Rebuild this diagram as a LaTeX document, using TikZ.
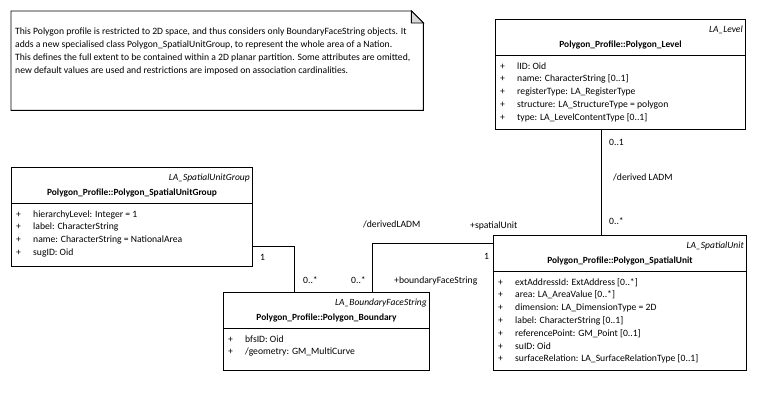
\documentclass[tikz,border=0pt]{standalone}
\usepackage{fontspec}
\setmainfont{Carlito}
\begin{document}
\begin{tikzpicture}
[x=1pt,y=-1pt,%
  boxLine/.style={draw,line width=0.9pt},%
  classBox/.style={boxLine,fill=white,anchor=north west,inner sep=0pt},%
  noteBox/.style={anchor=north west,inner sep=0pt},%
  umlText/.style={inner sep=0pt,font=\fontsize{9.65pt}{12.8pt}\selectfont},%
  stereoText/.style={umlText,anchor=base east,font=\fontsize{9.5pt}{12.8pt}\selectfont\itshape},%
  titleText/.style={umlText,anchor=base,font=\fontsize{9.4pt}{12.8pt}\selectfont\bfseries},%
  attrText/.style={umlText,anchor=base west},%
  assocLine/.style={-,line width=0.9pt}]
\useasboundingbox (0,0) rectangle (757,400);
%% note
\node (note) at (11,11) [noteBox,minimum width=412pt,minimum height=99pt] {};
\draw[boxLine,fill=white] (note.north west) -- ([xshift=-12pt]note.north east)
  -- ([yshift=-12pt]note.north east) -- (note.south east) -- (note.south west) -- cycle;
\draw[boxLine,fill=gray!30] ([xshift=-12pt]note.north east)
  -- ([xshift=-12pt,yshift=-12pt]note.north east) -- ([yshift=-12pt]note.north east) -- cycle;
\node (noteText) at (15,28) [umlText,anchor=north west,align=left]
  {This Polygon profile is restricted to 2D space, and thus considers only BoundaryFaceString objects. It\\
   adds a new specialised class Polygon\_SpatialUnitGroup, to represent the whole area of a Nation.\\
   This defines the full extent to be contained within a 2D planar partition. Some attributes are omitted,\\
   new default values are used and restrictions are imposed on association cardinalities.};
%% class boxes
\foreach \name/\x/\y/\w/\h/\stereo/\title in {level/495/19/250/110/LA\_Level/Polygon\_Level,
  sug/11/167/241/99/LA\_SpatialUnitGroup/Polygon\_SpatialUnitGroup,
  bnd/223/292/206/78/LA\_BoundaryFaceString/Polygon\_Boundary,
  su/493/235/253/135/LA\_SpatialUnit/Polygon\_SpatialUnit}
{
  \node (\name) at (\x,\y) [classBox,minimum width=\w pt,minimum height=\h pt] {};
  \node (\name-st) at ([xshift=-3pt,yshift=-13pt]\name.north east) [stereoText] {\stereo};
  \node (\name-ti) at ([yshift=-28.5pt]\name.north) [titleText] {Polygon\_Profile::\title};
  \draw[boxLine] ([yshift=-36.5pt]\name.north west) -- ([yshift=-36.5pt]\name.north east);
}
%% attributes
\foreach \name/\row/\attr in {level/0/{lID: Oid}, level/1/{name: CharacterString [0..1]},
  level/2/{registerType: LA\_RegisterType}, level/3/{structure: LA\_StructureType = polygon},
  level/4/{type: LA\_LevelContentType [0..1]},
  sug/0/{hierarchyLevel: Integer = 1}, sug/1/{label: CharacterString},
  sug/2/{name: CharacterString = NationalArea}, sug/3/{sugID: Oid},
  bnd/0/{bfsID: Oid}, bnd/1/{/geometry: GM\_MultiCurve},
  su/0/{extAddressId: ExtAddress [0..*]}, su/1/{area: LA\_AreaValue [0..*]},
  su/2/{dimension: LA\_DimensionType = 2D}, su/3/{label: CharacterString [0..1]},
  su/4/{referencePoint: GM\_Point [0..1]}, su/5/{suID: Oid},
  su/6/{surfaceRelation: LA\_SurfaceRelationType [0..1]}}
{
  \node (\name-p\row) at ([xshift=5pt,yshift=-50pt-\row*12.8pt]\name.north west) [attrText] {+};
  \node (\name-a\row) at ([xshift=22pt,yshift=-50pt-\row*12.8pt]\name.north west) [attrText] {\attr};
}
%% associations
\draw[assocLine] ([xshift=-19pt]level.south) -- ([xshift=-19pt]level.south |- su.north);
\draw[assocLine] ([yshift=-29.5pt]sug.east) -| ([xshift=71pt]bnd.north west);
\draw[assocLine] ([xshift=149pt]bnd.north west) |- ([yshift=59.5pt]su.west);
%% association labels
\foreach \lname/\x/\y/\txt in {lvlEnd/609/145/{0..1}, lvlRole/613/180/{/derived LADM},
  suEndTop/609/224/{0..*}, sugEnd/260/260/{1}, bndEndL/303/283/{0..*},
  bndEndR/351/283/{0..*}, bndRole/394/283/{+boundaryFaceString},
  suEndL/484/259/{1}, assocName/363/227/{/derivedLADM}, suRole/470/228/{+spatialUnit}}
{
  \node (\lname) at (\x,\y) [attrText] {\txt};
}
\end{tikzpicture}
\end{document}
